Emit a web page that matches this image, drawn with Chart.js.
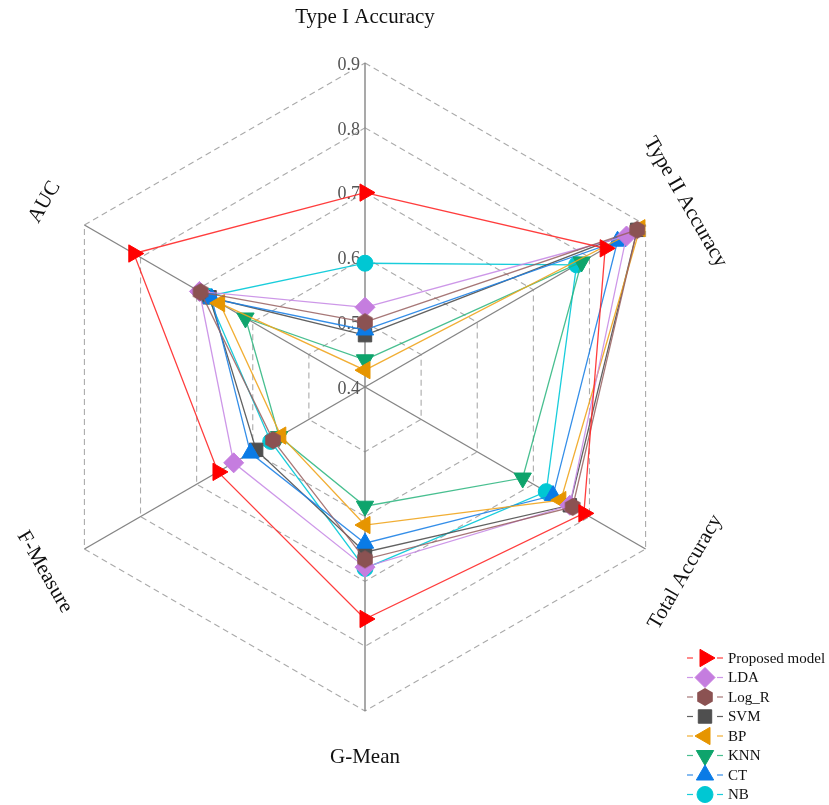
<!DOCTYPE html>
<html>
<head>
<meta charset="utf-8">
<script src="https://cdn.jsdelivr.net/npm/chart.js@4/dist/chart.umd.min.js"></script>
<style>
  html, body { margin: 0; padding: 0; background: #ffffff; }
  #wrap { width: 829px; height: 805px; }
</style>
</head>
<body>
<div id="wrap"><canvas id="radar" width="829" height="805"></canvas></div>
<script>
// Axes, clockwise from the top
const axes = ['Type I Accuracy', 'Type II Accuracy', 'Total Accuracy', 'G-Mean', 'F-Measure', 'AUC'];
const tickValues = [0.4, 0.5, 0.6, 0.7, 0.8, 0.9];
const tickLabels = ['0.4', '0.5', '0.6', '0.7', '0.8', '0.9'];

// Scores per model, in axis order
const proposed = [0.700, 0.828, 0.790, 0.758, 0.662, 0.812];
const lda      = [0.523, 0.866, 0.765, 0.678, 0.634, 0.695];
const logR     = [0.500, 0.885, 0.770, 0.666, 0.564, 0.693];
const svm      = [0.480, 0.885, 0.765, 0.655, 0.594, 0.677];
const bp       = [0.426, 0.890, 0.749, 0.613, 0.550, 0.659];
const knn      = [0.442, 0.786, 0.681, 0.584, 0.553, 0.613];
const ct       = [0.488, 0.850, 0.735, 0.641, 0.604, 0.673];
const nb       = [0.591, 0.777, 0.723, 0.680, 0.568, 0.680];

// Filled hexagon used as a point style
function hexagonImage(r, color) {
  const size = Math.ceil(2 * r) + 2;
  const c = document.createElement('canvas');
  c.width = size; c.height = size;
  const g = c.getContext('2d');
  const m = size / 2;
  g.beginPath();
  for (let k = 0; k < 6; k++) {
    const a = -Math.PI / 2 + k * Math.PI / 3;
    const px = m + r * Math.cos(a), py = m + r * Math.sin(a);
    if (k === 0) g.moveTo(px, py); else g.lineTo(px, py);
  }
  g.closePath();
  g.fillStyle = color;
  g.fill();
  return c;
}

const hexLog = hexagonImage(9, '#8b5252');

const series = [
  { label: 'Proposed model', data: proposed, line: 'rgba(255,40,40,0.9)',  mark: '#ff0000', style: 'triangle', rot: 90,  r: 10,  order: 0 },
  { label: 'LDA',            data: lda,      line: 'rgba(200,140,230,0.9)', mark: '#c57ddf', style: 'rectRot',  rot: 0,   r: 10,  order: 2 },
  { label: 'Log_R',          data: logR,     line: 'rgba(150,95,95,0.85)',  mark: '#8b5252', style: hexLog,     rot: 0,   r: 9,   order: 1 },
  { label: 'SVM',            data: svm,      line: 'rgba(80,80,80,0.9)',    mark: '#4f4f4f', style: 'rect',     rot: 0,   r: 9.5, order: 6 },
  { label: 'BP',             data: bp,       line: 'rgba(240,165,30,0.9)',  mark: '#e69500', style: 'triangle', rot: -90, r: 10,  order: 3 },
  { label: 'KNN',            data: knn,      line: 'rgba(40,180,125,0.85)', mark: '#0ea46c', style: 'triangle', rot: 180, r: 10,  order: 4 },
  { label: 'CT',             data: ct,       line: 'rgba(30,130,230,0.9)',  mark: '#0a7be6', style: 'triangle', rot: 0,   r: 10,  order: 5 },
  { label: 'NB',             data: nb,       line: 'rgba(0,200,215,0.9)',   mark: '#00c7d3', style: 'circle',   rot: 0,   r: 8,   order: 7 }
];

const SERIF = '"Liberation Serif", "Times New Roman", serif';

// Own drawing of a marker, used when Chart.helpers is not exposed
function drawMarker(ctx, s, x, y) {
  if (window.Chart && Chart.helpers && Chart.helpers.drawPoint) {
    Chart.helpers.drawPoint(ctx, { pointStyle: s.style, rotation: s.rot, radius: s.r, borderWidth: 1 }, x, y);
    return;
  }
  if (typeof s.style === 'object') { ctx.drawImage(s.style, x - s.style.width / 2, y - s.style.height / 2); return; }
  ctx.save(); ctx.translate(x, y); ctx.rotate(s.rot * Math.PI / 180);
  ctx.beginPath();
  if (s.style === 'triangle') {
    for (let k = 0; k < 3; k++) { const a = -Math.PI / 2 + k * 2 * Math.PI / 3; ctx.lineTo(s.r * Math.cos(a), s.r * Math.sin(a)); }
    ctx.closePath();
  } else if (s.style === 'rectRot') {
    ctx.moveTo(0, -s.r); ctx.lineTo(s.r, 0); ctx.lineTo(0, s.r); ctx.lineTo(-s.r, 0); ctx.closePath();
  } else if (s.style === 'rect') {
    const h = s.r * Math.SQRT1_2; ctx.rect(-h, -h, 2 * h, 2 * h);
  } else {
    ctx.arc(0, 0, s.r, 0, Math.PI * 2);
  }
  ctx.fill(); ctx.stroke(); ctx.restore();
}

const decorPlugin = {
  id: 'radarDecor',
  beforeDatasetsDraw(chart) {
    const sc = chart.scales.r, ctx = chart.ctx;
    ctx.save();
    ctx.font = '18px ' + SERIF;
    ctx.fillStyle = '#555555';
    ctx.textAlign = 'right';
    ctx.textBaseline = 'middle';
    tickValues.forEach((v, i) => {
      const d = sc.getDistanceFromCenterForValue(v);
      ctx.fillText(tickLabels[i], sc.xCenter - 5, sc.yCenter - d + 2);
    });
    ctx.restore();
  },
  afterDraw(chart) {
    const sc = chart.scales.r, ctx = chart.ctx;
    // axis titles, set tangentially around the hexagon
    ctx.save();
    ctx.font = '21px ' + SERIF;
    ctx.fillStyle = '#111111';
    ctx.textAlign = 'center';
    ctx.textBaseline = 'middle';
    axes.forEach((name, i) => {
      const p = sc.getPointPosition(i, sc.drawingArea + 46);
      let deg = i * 360 / axes.length;
      if (deg > 90 && deg < 270) deg -= 180;
      ctx.save();
      ctx.translate(p.x, p.y);
      ctx.rotate(deg * Math.PI / 180);
      ctx.fillText(name, 0, 0);
      ctx.restore();
    });
    ctx.restore();

    // legend, lower right
    ctx.save();
    const x0 = 687, x1 = 723, y0 = 658, dy = 19.5;
    ctx.font = '15px ' + SERIF;
    ctx.textAlign = 'left';
    ctx.textBaseline = 'middle';
    series.forEach((s, i) => {
      const y = y0 + i * dy;
      ctx.strokeStyle = s.line;
      ctx.lineWidth = 1.2;
      ctx.beginPath(); ctx.moveTo(x0, y); ctx.lineTo(x0 + 6, y); ctx.stroke();
      ctx.beginPath(); ctx.moveTo(x1 - 6, y); ctx.lineTo(x1, y); ctx.stroke();
      ctx.fillStyle = s.mark;
      ctx.strokeStyle = s.mark;
      ctx.lineWidth = 1;
      drawMarker(ctx, s, (x0 + x1) / 2, y);
      ctx.fillStyle = '#111111';
      ctx.fillText(s.label, x1 + 5, y + 1);
    });
    ctx.restore();
  }
};

new Chart(document.getElementById('radar'), {
  type: 'radar',
  data: {
    labels: axes,
    datasets: series.map(s => ({
      label: s.label,
      data: s.data,
      order: s.order,
      fill: false,
      borderColor: s.line,
      backgroundColor: 'transparent',
      borderWidth: 1.3,
      pointStyle: s.style,
      pointRotation: s.rot,
      pointRadius: s.r,
      pointHoverRadius: s.r,
      pointBackgroundColor: s.mark,
      pointBorderColor: s.mark,
      pointBorderWidth: 1
    }))
  },
  options: {
    responsive: false,
    animation: false,
    layout: { padding: { left: 41, right: 140, top: 63, bottom: 94 } },
    plugins: { legend: { display: false }, tooltip: { enabled: false } },
    scales: {
      r: {
        min: 0.4,
        max: 0.9,
        ticks: { display: false, stepSize: 0.1 },
        pointLabels: { display: false },
        grid: { color: '#ababab', lineWidth: 1.1 },
        border: { dash: [6, 4] },
        angleLines: { color: '#858585', lineWidth: 1.4 }
      }
    }
  },
  plugins: [decorPlugin]
});
</script>
</body>
</html>
